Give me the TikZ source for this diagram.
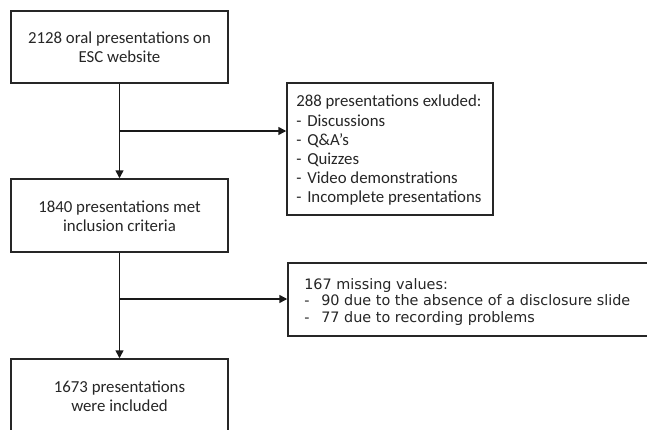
\documentclass[tikz,border=0pt]{standalone}
\usepackage{fontspec}
\setmainfont{Carlito}
\newfontfamily\verdanalike{DejaVu Sans}
\usetikzlibrary{arrows.meta}
\tikzset{
  box/.style={draw=black!85, line width=1.1pt, fill=white, inner sep=0pt},
  ctext/.style={align=center, font=\fontsize{12.6pt}{14.25pt}\selectfont, text=black!85},
  ltext/.style={align=left, font=\fontsize{12.6pt}{14.4pt}\selectfont, text=black!85},
  vtext/.style={align=left, font=\verdanalike\fontsize{10.8pt}{12.5pt}\selectfont, text=black!85},
  arr/.style={draw=black!90, line width=1.1pt, -{Triangle[length=6pt,width=6pt]}}
}
\newcommand{\dsh}[1]{\makebox[#1][l]{-}}
\begin{document}
\begin{tikzpicture}[x=0.75pt,y=-0.75pt]
\useasboundingbox (0,0) rectangle (647,429);
\clip (0,0) rectangle (647,429);
% boxes
\node[box, minimum width=162.75pt, minimum height=54pt] (b1) at (119.5,47) {};
\node[ctext] (t1) at (119.5,47.5) {2128 oral presentations on\\ESC website};

\node[box, minimum width=154.5pt, minimum height=99pt] (b2) at (390,149) {};
\node[ltext, anchor=north west, inner sep=0pt] (t2) at (296,95) {288 presentations exluded:\\
\dsh{8.25pt}Discussions\\
\dsh{8.25pt}Q\&A's\\
\dsh{8.25pt}Quizzes\\
\dsh{8.25pt}Video demonstrations\\
\dsh{8.25pt}Incomplete presentations};

\node[box, minimum width=162.75pt, minimum height=54.75pt] (b3) at (119.5,215.5) {};
\node[ctext] (t3) at (119.5,216.5) {1840 presentations met\\inclusion criteria};

\node[box, minimum width=279pt, minimum height=54.75pt] (b4) at (474,299.5) {};
\node[vtext, anchor=north west, inner sep=0pt] (t4) at (304,278) {167 missing values:\\
\dsh{12.75pt}90 due to the absence of a disclosure slide\\
\dsh{12.75pt}77 due to recording problems};

\node[box, minimum width=162.75pt, minimum height=55.5pt] (b5) at (119.5,396) {};
\node[ctext] (t5) at (119.5,396.5) {1673 presentations\\were included};

% connectors
\coordinate (j1) at (119.5,131);
\coordinate (j2) at (119.5,299);
\draw[arr] (b1.south) -- (b3.north);
\draw[arr] (j1) -- (b2.west |- j1);
\draw[arr] (b3.south) -- (b5.north);
\draw[arr] (j2) -- (b4.west |- j2);
\end{tikzpicture}
\end{document}
